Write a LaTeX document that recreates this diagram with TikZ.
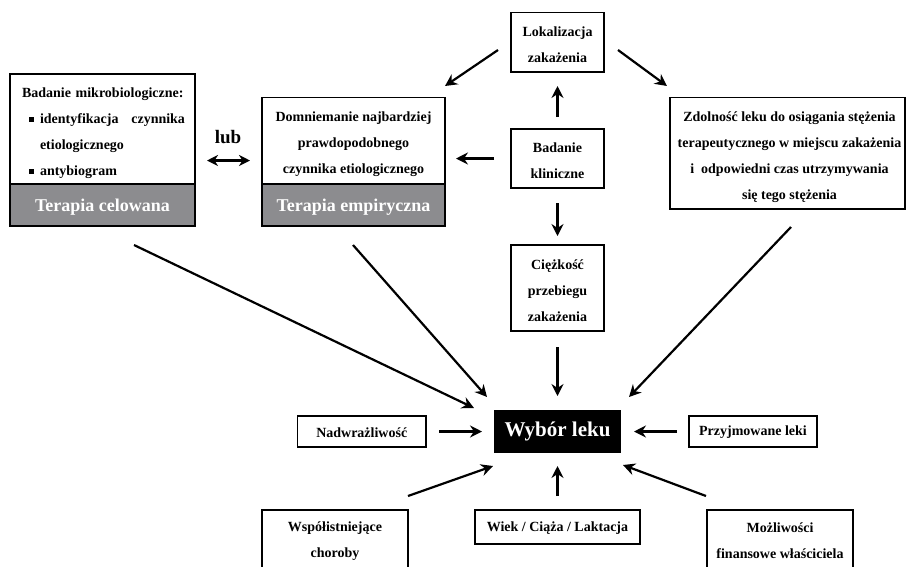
\documentclass[tikz,border=0pt]{standalone}
\usepackage{fontspec}
\setmainfont{Liberation Serif}
\usetikzlibrary{arrows.meta}
\definecolor{bandgray}{RGB}{140,140,143}
\newcommand\sqbullet{\rule[1.5pt]{5pt}{5pt}}
\begin{document}
\begin{tikzpicture}[x=1pt,y=-1pt,
  frame/.style={draw, line width=1.5pt, inner sep=0pt},
  txt/.style={inner sep=0pt, align=center, font=\bfseries\fontsize{14}{26}\selectfont},
  band/.style={draw, fill=bandgray, line width=1.5pt, inner sep=0pt},
  bandtxt/.style={inner sep=0pt, text=white, font=\bfseries\fontsize{18}{22}\selectfont},
  arr/.style={line width=2.2pt, -{Stealth[length=12pt,width=12pt,inset=4pt]}},
  dblarr/.style={line width=2.2pt, {Stealth[length=11pt,width=11pt,inset=3.5pt]}-{Stealth[length=11pt,width=11pt,inset=3.5pt]}}
]
\clip (0,0) rectangle (906,566);
\fill[white] (0,0) rectangle (906,566);

% targeted therapy
\node[frame, minimum width=185, minimum height=110] (mikro) at (102.5,129) {};
\node[txt, text width=163, align=left] (mikro-t) at ([xshift=1pt,yshift=-4pt]mikro.center)
  {Badanie mikrobiologiczne:\\
  \hspace*{7pt}\sqbullet\hspace{6pt}identyfikacja\hfill czynnika\\
  \hspace*{18pt}etiologicznego\\
  \hspace*{7pt}\sqbullet\hspace{6pt}antybiogram};
\node[band, minimum width=185, minimum height=42] (celowana) at (102.5,205) {};
\node[bandtxt] (celowana-t) at ([yshift=-2pt]celowana.center) {Terapia celowana};

% empirical therapy
\node[frame, minimum width=183, minimum height=86.5] (domn) at (353.5,140.75) {};
\node[txt] (domn-t) at ([yshift=-3pt]domn.center)
  {Domniemanie najbardziej\\ prawdopodobnego\\ czynnika etiologicznego};
\node[band, minimum width=183, minimum height=42] (empir) at (353.5,205) {};
\node[bandtxt] (empir-t) at ([yshift=-2pt]empir.center) {Terapia empiryczna};

\node[font=\bfseries\fontsize{19}{22}\selectfont] (lub) at (228,137) {lub};
\coordinate (lubL) at (207,160.5);
\coordinate (lubR) at (250,160.5);
\draw[dblarr] (lubL) -- (lubR);

% central column
\node[frame, minimum width=93, minimum height=59.5] (lok) at (557.5,42.3) {};
\node[txt] (lok-t) at ([yshift=-2.5pt]lok.center) {Lokalizacja\\ zakażenia};
\node[frame, minimum width=93, minimum height=59] (klin) at (557.5,158.5) {};
\node[txt] (klin-t) at ([yshift=-2.5pt]klin.center) {Badanie\\ kliniczne};
\node[frame, minimum width=93, minimum height=86] (ciezk) at (557.5,288) {};
\node[txt] (ciezk-t) at ([yshift=-2.5pt]ciezk.center) {Ciężkość\\ przebiegu\\ zakażenia};
\node[frame, minimum width=235, minimum height=111.5] (zdoln) at (787.5,153.25) {};
\node[txt] (zdoln-t) at ([xshift=2pt,yshift=-4pt]zdoln.center)
  {Zdolność leku do osiągania stężenia\\ terapeutycznego w miejscu zakażenia\\
   i\ \ odpowiedni czas utrzymywania\\ się tego stężenia};

% choice of drug
\node[draw, fill=black, text=white, line width=1.5pt, inner sep=0pt,
  minimum width=125, minimum height=41, font=\bfseries\fontsize{21}{24}\selectfont]
  (wybor) at (557.5,431.5) {Wybór leku};
\node[frame, minimum width=128.5, minimum height=31] (nadw) at (361.75,431.5) {};
\node[txt] (nadw-t) at ([yshift=-1pt]nadw.center) {Nadwrażliwość};
\node[frame, minimum width=128, minimum height=31] (przyj) at (753,431.5) {};
\node[txt] (przyj-t) at ([yshift=-1pt]przyj.center) {Przyjmowane leki};
\node[frame, minimum width=165, minimum height=34] (wiek) at (557.5,527) {};
\node[txt] (wiek-t) at ([yshift=-1pt]wiek.center) {Wiek / Ciąża / Laktacja};
\node[frame, minimum width=146, minimum height=60] (wspol) at (335,540) {};
\node[txt] (wspol-t) at ([yshift=-1pt]wspol.center) {Współistniejące\\ choroby};
\node[frame, minimum width=146, minimum height=60] (mozl) at (780,540) {};
\node[txt] (mozl-t) at ([yshift=-1pt]mozl.center) {Możliwości\\ finansowe właściciela};

% connector end points
\coordinate (k1) at (557.5,117);  \coordinate (k1e) at (557.5,86);
\coordinate (k2) at (494,158.5);  \coordinate (k2e) at (456,158.5);
\coordinate (k3) at (557.5,203);  \coordinate (k3e) at (557.5,236);
\coordinate (l1) at (498,50);     \coordinate (l1e) at (445,86);
\coordinate (l2) at (618,50);     \coordinate (l2e) at (667,86);
\coordinate (c1) at (557.5,347);  \coordinate (c1e) at (557.5,396);
\coordinate (m1) at (134,245);    \coordinate (m1e) at (474,408);
\coordinate (d1) at (353,245);    \coordinate (d1e) at (487,397);
\coordinate (z1) at (791,227);    \coordinate (z1e) at (629,397);
\coordinate (n1) at (439,431.5);  \coordinate (n1e) at (482,431.5);
\coordinate (p1) at (677,431.5);  \coordinate (p1e) at (634,431.5);
\coordinate (w1) at (408,496);    \coordinate (w1e) at (493,466);
\coordinate (a1) at (557.5,496);  \coordinate (a1e) at (557.5,466);
\coordinate (f1) at (706,496);    \coordinate (f1e) at (623,465);

\draw[arr] (k1) -- (k1e);
\draw[arr] (k2) -- (k2e);
\draw[arr] (k3) -- (k3e);
\draw[arr] (l1) -- (l1e);
\draw[arr] (l2) -- (l2e);
\draw[arr] (c1) -- (c1e);
\draw[arr] (m1) -- (m1e);
\draw[arr] (d1) -- (d1e);
\draw[arr] (z1) -- (z1e);
\draw[arr] (n1) -- (n1e);
\draw[arr] (p1) -- (p1e);
\draw[arr] (w1) -- (w1e);
\draw[arr] (a1) -- (a1e);
\draw[arr] (f1) -- (f1e);
\end{tikzpicture}
\end{document}
